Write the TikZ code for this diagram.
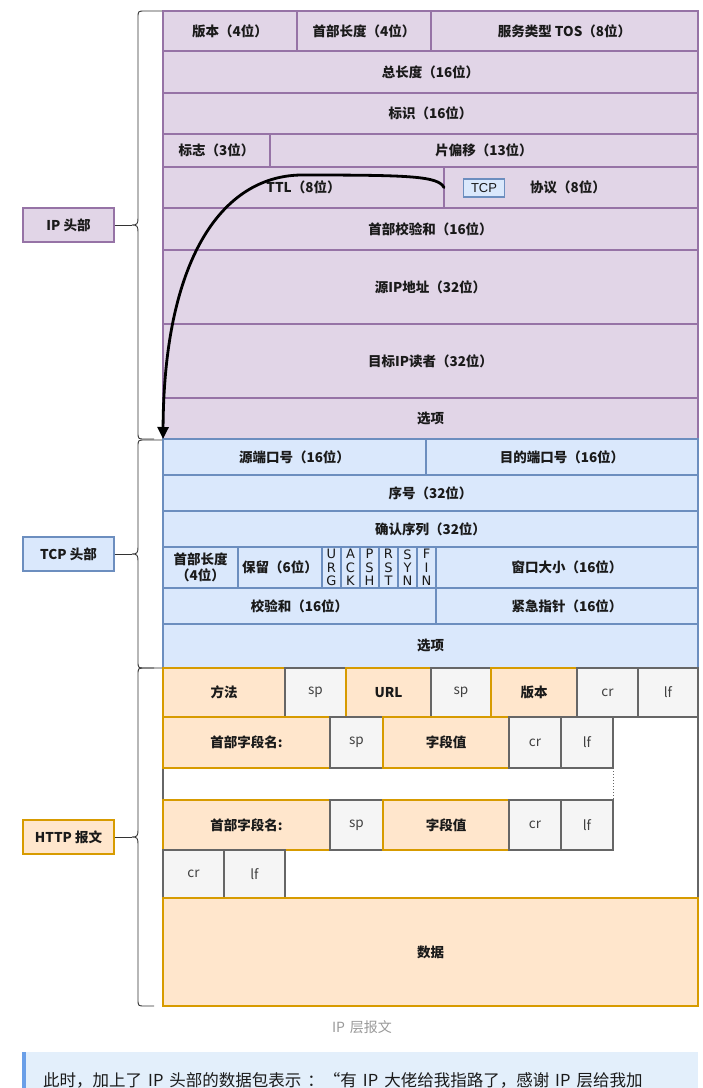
\documentclass[tikz,border=0pt]{standalone}
\usepackage{fontspec}
\setmainfont{Noto Sans CJK SC}
\newfontfamily\arialf{Liberation Sans}
\newfontfamily\flagf{DejaVu Sans}
\usetikzlibrary{arrows.meta}
\definecolor{ipfill}{HTML}{E1D5E7}\definecolor{ipdraw}{HTML}{9673A6}
\definecolor{tcpfill}{HTML}{DAE8FC}\definecolor{tcpdraw}{HTML}{6C8EBF}
\definecolor{htfill}{HTML}{FFE6CC}\definecolor{htdraw}{HTML}{D79B00}
\definecolor{grfill}{HTML}{F5F5F5}\definecolor{grdraw}{HTML}{666666}
\definecolor{txt}{HTML}{1A1A1A}
\definecolor{capgray}{HTML}{999999}
\definecolor{quotebg}{HTML}{E3EFFB}\definecolor{quotebar}{HTML}{6A9FE8}
\newcommand\fcell[7]{\node[#1, minimum width={(#5-#3)*1pt}, minimum height={(#6-#4)*1pt}] (#2) at ({(#3+#5)/2},{(#4+#6)/2}) {#7};}
\newcommand\mybrace[3]{\draw[bracestyle] (162,#1) -- (145,#1) .. controls (138,#1) .. (138,#1+7) -- (138,#2-7) .. controls (138,#2-1) and (137,#2) .. (132,#2) .. controls (137,#2) and (138,#2+1) .. (138,#2+7) -- (138,#3-7) .. controls (138,#3) .. (145,#3) -- (154,#3);}
\newcommand\qs{\hspace{6pt}}
\tikzset{
  cellbase/.style={rectangle, inner sep=0pt, outer sep=0pt, line width=1.1pt, text=txt, font=\bfseries\fontsize{13.5}{15.5}\selectfont, align=center},
  ipc/.style={cellbase, fill=ipfill, draw=ipdraw},
  tcpc/.style={cellbase, fill=tcpfill, draw=tcpdraw},
  flagc/.style={rectangle, inner sep=0pt, outer sep=0pt, line width=1.1pt, text=txt, align=center, fill=tcpfill, draw=tcpdraw, font=\flagf\fontsize{13}{13.3}\selectfont},
  htc/.style={cellbase, fill=htfill, draw=htdraw},
  grc/.style={cellbase, fill=grfill, draw=grdraw, font=\fontsize{13.5}{15.5}\selectfont, text=black!75},
  whitec/.style={cellbase, fill=white, draw=grdraw},
  lbl/.style={rectangle, inner sep=0pt, minimum width=91pt, minimum height=34pt, line width=1.1pt, text=txt, font=\bfseries\fontsize{13.5}{15.5}\selectfont},
  bracestyle/.style={draw=black!80, line width=0.9pt},
  tcptag/.style={rectangle, inner sep=0pt, minimum width=41pt, minimum height=18pt, fill=tcpfill, draw=tcpdraw, line width=1.4pt, font=\arialf\fontsize{13}{15}\selectfont, text=txt}
}
\begin{document}
\begin{tikzpicture}[x=1pt,y=-1pt]
\useasboundingbox (0,0) rectangle (703,1088);
\clip (0,0) rectangle (703,1088);
% IP header
\fcell{ipc}{ver}{163}{11}{297}{51}{版本（4位）}
\fcell{ipc}{ihl}{297}{11}{431}{51}{首部长度（4位）}
\fcell{ipc}{tos}{431}{11}{698}{51}{服务类型 TOS（8位）}
\fcell{ipc}{tlen}{163}{51}{698}{93}{总长度（16位）}
\fcell{ipc}{ident}{163}{93}{698}{134}{标识（16位）}
\fcell{ipc}{flg}{163}{134}{270}{167}{标志（3位）}
\fcell{ipc}{frag}{270}{134}{698}{167}{片偏移（13位）}
\fcell{ipc}{ttl}{163}{167}{444}{208}{TTL（8位）}
\fcell{ipc}{prot}{444}{167}{698}{208}{\hspace*{-6pt}协议（8位）}
\fcell{ipc}{hcs}{163}{208}{698}{250}{首部校验和（16位）}
\fcell{ipc}{srcip}{163}{250}{698}{324}{源IP地址（32位）}
\fcell{ipc}{dstip}{163}{324}{698}{398}{目标IP读者（32位）}
\fcell{ipc}{ipopt}{163}{398}{698}{439}{选项}
\node[tcptag] (tcptag) at (484,188) {TCP};
% TCP header
\fcell{tcpc}{sport}{163}{439}{426}{475}{源端口号（16位）}
\fcell{tcpc}{dport}{426}{439}{698}{475}{目的端口号（16位）}
\fcell{tcpc}{seq}{163}{475}{698}{511}{序号（32位）}
\fcell{tcpc}{ackn}{163}{511}{698}{547}{确认序列（32位）}
\fcell{tcpc}{thl}{163}{547}{238}{588}{首部长度\\（4位）}
\fcell{tcpc}{rsv}{238}{547}{322}{588}{保留（6位）}
\fcell{flagc}{furg}{322}{547}{341}{588}{U\\R\\G}
\fcell{flagc}{fack}{341}{547}{360}{588}{A\\C\\K}
\fcell{flagc}{fpsh}{360}{547}{379}{588}{P\\S\\H}
\fcell{flagc}{frst}{379}{547}{398}{588}{R\\S\\T}
\fcell{flagc}{fsyn}{398}{547}{417}{588}{S\\Y\\N}
\fcell{flagc}{ffin}{417}{547}{436}{588}{F\\I\\N}
\fcell{tcpc}{win}{436}{547}{698}{588}{窗口大小（16位）}
\fcell{tcpc}{tcs}{163}{588}{436}{624}{校验和（16位）}
\fcell{tcpc}{urgp}{436}{588}{698}{624}{紧急指针（16位）}
\fcell{tcpc}{tcpopt}{163}{624}{698}{668}{选项}
% HTTP
\fcell{whitec}{httpbox}{163}{668}{698}{1006}{}
\fcell{htc}{meth}{163}{668}{285}{717}{方法}
\fcell{grc}{spa}{285}{668}{346}{717}{sp}
\fcell{htc}{url}{346}{668}{431}{717}{URL}
\fcell{grc}{spb}{431}{668}{491}{717}{sp}
\fcell{htc}{hver}{491}{668}{577}{717}{版本}
\fcell{grc}{cra}{577}{668}{638}{717}{cr}
\fcell{grc}{lfa}{638}{668}{698}{717}{lf}
\fcell{htc}{hna}{163}{717}{330}{768}{首部字段名:}
\fcell{grc}{spc}{330}{717}{383}{768}{sp}
\fcell{htc}{hva}{383}{717}{509}{768}{字段值}
\fcell{grc}{crb}{509}{717}{561}{768}{cr}
\fcell{grc}{lfb}{561}{717}{613}{768}{lf}
\fcell{htc}{hnb}{163}{800}{330}{850}{首部字段名:}
\fcell{grc}{spd}{330}{800}{383}{850}{sp}
\fcell{htc}{hvb}{383}{800}{509}{850}{字段值}
\fcell{grc}{crc}{509}{800}{561}{850}{cr}
\fcell{grc}{lfc}{561}{800}{613}{850}{lf}
\draw[draw=grdraw, line width=1pt, dotted] (lfb.south east) -- (lfc.north east);
\fcell{grc}{crd}{163}{850}{224}{898}{cr}
\fcell{grc}{lfd}{224}{850}{285}{898}{lf}
\fcell{htc}{data}{163}{898}{698}{1006}{数据}
% arrow
\draw[line width=2.8pt, line cap=round, -{Triangle[length=12pt,width=11pt]}] (prot.west) .. controls (438,176) and (410,175) .. (300,175) .. controls (220,177) and (164,262) .. (sport.north west);
% labels and braces
\node[lbl, fill=ipfill, draw=ipdraw] (iplbl) at (68.5,225) {IP 头部};
\node[lbl, fill=tcpfill, draw=tcpdraw] (tcplbl) at (68.5,554) {TCP 头部};
\node[lbl, fill=htfill, draw=htdraw] (httplbl) at (68.5,837) {HTTP 报文};
\mybrace{11}{225}{439}
\mybrace{440}{554}{668}
\mybrace{668}{837}{1006}
\coordinate (iptip) at (132,225);
\coordinate (tcptip) at (132,554);
\coordinate (httptip) at (132,837);
\draw[bracestyle] (iplbl.east) -- (iptip);
\draw[bracestyle] (tcplbl.east) -- (tcptip);
\draw[bracestyle] (httplbl.east) -- (httptip);
% caption
\node[text=capgray, font=\fontsize{14}{16}\selectfont] (cap) at (362,1027) {IP\hspace{5pt}层报文};
% quote block
\fill[quotebg] (22,1052) rectangle (698,1095);
\fill[quotebar] (22,1052) rectangle (26,1095);
\node[anchor=west, inner sep=0pt, text=txt, font=\fontsize{16.5}{18}\selectfont] (quote) at (43,1080) {此时，加上了\qs IP\qs 头部的数据包表示\qs ：“有\qs IP\qs 大佬给我指路了，感谢\qs IP\qs 层给我加};
\end{tikzpicture}
\end{document}
